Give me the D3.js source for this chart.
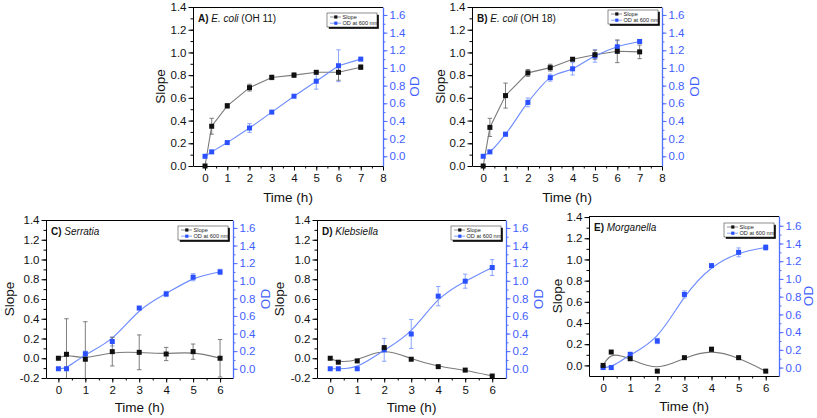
<!DOCTYPE html>
<html><head><meta charset="utf-8">
<script src="https://cdn.jsdelivr.net/npm/d3@7"></script>
<style>body{margin:0;background:#fff}svg{display:block;font-family:"Liberation Sans",Arial,sans-serif}</style>
</head><body><svg id="chart" width="817" height="418"></svg>
<script>
// ---- data ----
const timeAB = [0, 0.3, 1, 2, 3, 4, 5, 6, 7];
const timeCDE = [0, 0.3, 1, 2, 3, 4, 5, 6];

const slopeA    = [0, 0.35, 0.53, 0.69, 0.78, 0.80, 0.825, 0.825, 0.87];
const slopeAErr = [0, 0.07, 0.02, 0.03, 0.02, 0.02, 0.01, 0.07, 0.02];
const odA       = [0, 0.05, 0.155, 0.32, 0.50, 0.68, 0.85, 1.025, 1.10];
const odAErr    = [0, 0.01, 0.01, 0.05, 0.01, 0.01, 0.09, 0.18, 0.01];

const slopeB    = [0, 0.34, 0.62, 0.82, 0.866, 0.94, 0.98, 1.01, 1.005];
const slopeBErr = [0, 0.08, 0.11, 0.03, 0.03, 0.01, 0.04, 0.10, 0.06];
const odB       = [0, 0.05, 0.25, 0.61, 0.89, 0.99, 1.135, 1.24, 1.30];
const odBErr    = [0, 0.01, 0.02, 0.05, 0.04, 0.07, 0.07, 0.07, 0.02];

const slopeC    = [0, 0.04, -0.01, 0.067, 0.06, 0.043, 0.067, 0];
const slopeCErr = [0, 0.36, 0.38, 0.145, 0.176, 0.067, 0.077, 0.19];
const odC       = [0, 0, 0.17, 0.31, 0.69, 0.85, 1.04, 1.10];
const odCErr    = [0.01, 0.01, 0.03, 0.05, 0.01, 0.03, 0.04, 0.03];

const slopeD    = [0, -0.04, -0.027, 0.108, -0.01, -0.085, -0.12, -0.18];
const slopeDErr = [0, 0, 0, 0.01, 0, 0, 0, 0];
const odD       = [0, 0, 0, 0.215, 0.395, 0.825, 0.995, 1.15];
const odDErr    = [0, 0, 0, 0.13, 0.165, 0.11, 0.08, 0.09];

const slopeE    = [0, 0.126, 0.063, -0.054, 0.073, 0.152, 0.073, -0.054];
const slopeEErr = [0, 0, 0, 0, 0, 0.02, 0, 0];
const odE       = [0, 0, 0.15, 0.30, 0.825, 1.15, 1.30, 1.355];
const odEErr    = [0.01, 0.01, 0.02, 0.03, 0.04, 0.02, 0.05, 0.03];

const xTicksAB = [0, 1, 2, 3, 4, 5, 6, 7, 8];
const xTicksCDE = [0, 1, 2, 3, 4, 5, 6];
const slopeTicksAB = [0, 0.2, 0.4, 0.6, 0.8, 1.0, 1.2, 1.4];
const slopeTicksCD = [-0.2, 0, 0.2, 0.4, 0.6, 0.8, 1.0, 1.2, 1.4];
const slopeTicksE = [0, 0.2, 0.4, 0.6, 0.8, 1.0, 1.2, 1.4];
const odTicks = [0, 0.2, 0.4, 0.6, 0.8, 1.0, 1.2, 1.4, 1.6];

const legendLabels = ["Slope", "OD at 600 nm"];
const titles = {
  A: [["A)", "bold"], [" ", ""], ["E. coli", "italic"], [" (OH 11)", ""]],
  B: [["B)", "bold"], [" ", ""], ["E. coli", "italic"], [" (OH 18)", ""]],
  C: [["C)", "bold"], [" ", ""], ["Serratia", "italic"]],
  D: [["D)", "bold"], [" ", ""], ["Klebsiella", "italic"]],
  E: [["E)", "bold"], [" ", ""], ["Morganella", "italic"]]
};

// ---- layout ----
const panels = [
  {id:"A", t:timeAB, s:slopeA, se:slopeAErr, o:odA, oe:odAErr, xt:xTicksAB, st:slopeTicksAB,
   x0:193, x1:383, y0:7, y1:166, xd:[-0.54, 8], sd:[0, 1.4], od:[-0.11, 1.69],
   curveS:d3.curveLinear, curveO:d3.curveLinear, leg:[327, 13], slopeX:160, odX:414.5, timeY:197},
  {id:"B", t:timeAB, s:slopeB, se:slopeBErr, o:odB, oe:odBErr, xt:xTicksAB, st:slopeTicksAB,
   x0:472, x1:662, y0:7, y1:166, xd:[-0.5, 8], sd:[0, 1.4], od:[-0.11, 1.69],
   curveS:d3.curveLinear, curveO:d3.curveMonotoneX, leg:[608, 10], slopeX:440, odX:694, timeY:197},
  {id:"C", t:timeCDE, s:slopeC, se:slopeCErr, o:odC, oe:odCErr, xt:xTicksCDE, st:slopeTicksCD,
   x0:46, x1:233, y0:220, y1:378, xd:[-0.46, 6.48], sd:[-0.2, 1.4], od:[-0.105, 1.69],
   curveS:d3.curveBasis, curveO:d3.curveBasis, leg:[178, 226], slopeX:9, odX:265, timeY:407.5},
  {id:"D", t:timeCDE, s:slopeD, se:slopeDErr, o:odD, oe:odDErr, xt:xTicksCDE, st:slopeTicksCD,
   x0:317, x1:506, y0:220, y1:378, xd:[-0.49, 6.51], sd:[-0.2, 1.4], od:[-0.105, 1.69],
   curveS:d3.curveBasis, curveO:d3.curveBasis, leg:[451, 226], slopeX:279.5, odX:538.5, timeY:407.5},
  {id:"E", t:timeCDE, s:slopeE, se:slopeEErr, o:odE, oe:odEErr, xt:xTicksCDE, st:slopeTicksE,
   x0:589, x1:779, y0:216, y1:376, xd:[-0.52, 6.49], sd:[-0.1, 1.41], od:[-0.095, 1.71],
   curveS:d3.curveBasis, curveO:d3.curveBasis, leg:[724, 223], slopeX:557, odX:808.5, timeY:406}
];

const BLUE_AXIS = "#4f6fff", BLUE_TEXT = "#3f60ff", BLUE_LINE = "#6c8bff", BLUE_MARK = "#2a50ff", BLUE_ERR = "#7f9cff";
const GRAY_LINE = "#7a7a7a", BLACK_MARK = "#111", GRAY_ERR = "#6f6f6f";
const fmt = d => d.toFixed(1);

const svg = d3.select("#chart");
const defs = svg.append("defs");

panels.forEach(p => {
  const x = d3.scaleLinear().domain(p.xd).range([p.x0, p.x1]);
  const y = d3.scaleLinear().domain(p.sd).range([p.y1, p.y0]);
  const y2 = d3.scaleLinear().domain(p.od).range([p.y1, p.y0]);
  const g = svg.append("g");

  defs.append("clipPath").attr("id", "clip" + p.id).append("rect")
    .attr("x", p.x0).attr("y", p.y0).attr("width", p.x1 - p.x0).attr("height", p.y1 - p.y0);

  // top border
  g.append("line").attr("x1", p.x0).attr("x2", p.x1).attr("y1", p.y0 + 0.5).attr("y2", p.y0 + 0.5)
    .attr("stroke", "#000").attr("stroke-width", 1);

  const xMax = p.xt[p.xt.length - 1];
  // minor ticks
  g.append("g").attr("transform", `translate(0,${p.y1})`)
    .call(d3.axisBottom(x).tickValues(d3.range(0, xMax + 0.01, 0.5)).tickSize(2.5).tickFormat("").tickSizeOuter(0))
    .call(a => a.select(".domain").remove());
  g.append("g").attr("transform", `translate(${p.x0},0)`)
    .call(d3.axisLeft(y).tickValues(d3.range(p.st[0], 1.401, 0.1)).tickSize(2.5).tickFormat("").tickSizeOuter(0))
    .call(a => a.select(".domain").remove());
  g.append("g").attr("transform", `translate(${p.x1},0)`)
    .call(d3.axisRight(y2).tickValues(d3.range(0, 1.601, 0.1)).tickSize(2.5).tickFormat("").tickSizeOuter(0))
    .call(a => { a.select(".domain").remove(); a.selectAll("line").attr("stroke", BLUE_AXIS); });

  // major axes
  const ax = g.append("g").attr("transform", `translate(0,${p.y1})`)
    .call(d3.axisBottom(x).tickValues(p.xt).tickSize(4.5).tickPadding(3).tickFormat(d3.format("d")).tickSizeOuter(0));
  ax.selectAll("text").attr("font-size", 11.5).attr("fill", "#111");
  const ay = g.append("g").attr("transform", `translate(${p.x0},0)`)
    .call(d3.axisLeft(y).tickValues(p.st).tickSize(4.5).tickPadding(2).tickFormat(fmt).tickSizeOuter(0));
  ay.selectAll("text").attr("font-size", 11.5).attr("fill", "#111");
  const ar = g.append("g").attr("transform", `translate(${p.x1},0)`)
    .call(d3.axisRight(y2).tickValues(odTicks).tickSize(4.5).tickPadding(2).tickFormat(fmt).tickSizeOuter(0));
  ar.selectAll("text").attr("font-size", 11.5).attr("fill", BLUE_TEXT);
  ar.selectAll("line").attr("stroke", BLUE_AXIS);
  ar.select(".domain").attr("stroke", BLUE_AXIS).attr("stroke-width", 1.3);
  [ax, ay].forEach(a => a.select(".domain").attr("stroke", "#000"));
  g.selectAll(".tick text").attr("font-family", "'Liberation Sans', Arial, sans-serif");

  // axis titles
  g.append("text").attr("x", (p.x0 + p.x1) / 2).attr("y", p.timeY).attr("text-anchor", "middle")
    .attr("dominant-baseline", "central").attr("font-size", 13.5).attr("fill", "#111").text("Time (h)");
  g.append("text").attr("transform", `translate(${p.slopeX},${(p.y0 + p.y1) / 2}) rotate(-90)`)
    .attr("text-anchor", "middle").attr("dominant-baseline", "central").attr("font-size", 13.5)
    .attr("fill", "#111").text("Slope");
  g.append("text").attr("transform", `translate(${p.odX},${(p.y0 + p.y1) / 2}) rotate(-90)`)
    .attr("text-anchor", "middle").attr("dominant-baseline", "central").attr("font-size", 13.5)
    .attr("fill", BLUE_TEXT).text("OD");

  // panel title
  const tt = g.append("text").attr("x", p.x0 + 5).attr("y", p.y0 + 15).attr("font-size", 10).attr("fill", "#111");
  titles[p.id].forEach(([s, st]) => {
    const ts = tt.append("tspan").text(s);
    if (st === "bold") ts.attr("font-weight", "bold");
    if (st === "italic") ts.attr("font-style", "italic");
  });

  // series
  const plot = g.append("g").attr("clip-path", `url(#clip${p.id})`);
  const sData = p.t.map((t, i) => ({t, v: p.s[i], e: p.se[i]}));
  const oData = p.t.map((t, i) => ({t, v: p.o[i], e: p.oe[i]}));

  plot.append("path").datum(sData).attr("fill", "none").attr("stroke", GRAY_LINE).attr("stroke-width", 1.1)
    .attr("d", d3.line().x(d => x(d.t)).y(d => y(d.v)).curve(p.curveS));
  plot.append("path").datum(oData).attr("fill", "none").attr("stroke", BLUE_LINE).attr("stroke-width", 1.1)
    .attr("d", d3.line().x(d => x(d.t)).y(d => y2(d.v)).curve(p.curveO));

  function errBars(data, sc, color) {
    const eb = plot.append("g").attr("stroke", color).attr("stroke-width", 0.9);
    data.filter(d => d.e > 0.012).forEach(d => {
      const cx = x(d.t), top = sc(d.v + d.e), bot = sc(d.v - d.e);
      eb.append("line").attr("x1", cx).attr("x2", cx).attr("y1", top).attr("y2", bot);
      eb.append("line").attr("x1", cx - 2.2).attr("x2", cx + 2.2).attr("y1", top).attr("y2", top);
      eb.append("line").attr("x1", cx - 2.2).attr("x2", cx + 2.2).attr("y1", bot).attr("y2", bot);
    });
  }
  errBars(oData, y2, BLUE_ERR);
  errBars(sData, y, GRAY_ERR);

  const ms = 5;
  svg.append("g").selectAll("rect").data(oData).join("rect")
    .attr("x", d => x(d.t) - ms / 2).attr("y", d => y2(d.v) - ms / 2).attr("width", ms).attr("height", ms)
    .attr("fill", BLUE_MARK);
  svg.append("g").selectAll("rect").data(sData).join("rect")
    .attr("x", d => x(d.t) - ms / 2).attr("y", d => y(d.v) - ms / 2).attr("width", ms).attr("height", ms)
    .attr("fill", BLACK_MARK);

  // legend
  const [lx, ly] = p.leg, lw = 50, lh = 14;
  const lg = g.append("g");
  lg.append("rect").attr("x", lx + 1.8).attr("y", ly + 1.8).attr("width", lw).attr("height", lh).attr("fill", "#000");
  lg.append("rect").attr("x", lx).attr("y", ly).attr("width", lw).attr("height", lh)
    .attr("fill", "#fff").attr("stroke", "#444").attr("stroke-width", 0.6);
  legendLabels.forEach((lab, i) => {
    const ry = ly + 4 + i * 6.2;
    const lc = i === 0 ? GRAY_LINE : BLUE_LINE, mc = i === 0 ? BLACK_MARK : BLUE_MARK;
    lg.append("line").attr("x1", lx + 3).attr("x2", lx + 14).attr("y1", ry).attr("y2", ry)
      .attr("stroke", lc).attr("stroke-width", 0.8);
    lg.append("rect").attr("x", lx + 7.2).attr("y", ry - 1.6).attr("width", 3.2).attr("height", 3.2).attr("fill", mc);
    lg.append("text").attr("x", lx + 15.5).attr("y", ry).attr("dominant-baseline", "central")
      .attr("font-size", 5.6).attr("fill", "#222").text(lab);
  });
});
</script>
</body></html>
